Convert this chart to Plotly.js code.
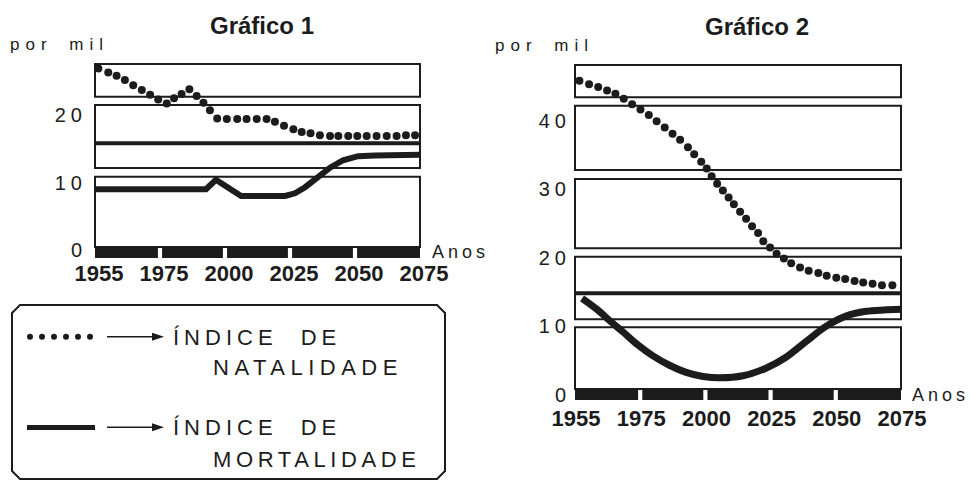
<!DOCTYPE html>
<html><head><meta charset="utf-8">
<script src="https://cdn.plot.ly/plotly-3.0.1.min.js"></script>
<style>body{margin:0;background:#fff}</style>
</head><body>
<div id="chart" style="width:970px;height:480px"></div>
<script>
// ---------- DATA ----------
const tickPositions = [1950, 1975, 2000, 2025, 2050, 2075];
const tickLabels = ['1955', '1975', '2000', '2025', '2050', '2075'];
const yTicks1 = [0, 10, 20];
const yTicks2 = [0, 10, 20, 30, 40];

// Gráfico 1 – natalidade (dots)
const nat1Years = [1951.3, 1955.1, 1958.3, 1961.5, 1964.7, 1968.0, 1971.2, 1974.3, 1977.6, 1980.4, 1983.3, 1986.3, 1989.1, 1991.7, 1994.2, 1997.0, 2000.7, 2004.7, 2008.3, 2012.2, 2016.0, 2019.2, 2022.7, 2026.3, 2029.5, 2032.9, 2036.5, 2040.4, 2043.6, 2047.4, 2050.9, 2054.5, 2058.3, 2062.2, 2066.0, 2069.6, 2073.1];
const nat1Values = [26.9, 26.3, 25.8, 25.2, 24.4, 23.7, 23.0, 22.3, 21.7, 22.5, 23.1, 23.8, 22.8, 21.8, 20.7, 19.5, 19.4, 19.4, 19.4, 19.4, 19.4, 19.0, 18.4, 17.9, 17.5, 17.3, 17.0, 16.9, 16.9, 16.9, 16.9, 16.9, 16.9, 16.9, 16.9, 17.0, 17.0];
// Gráfico 1 – mortalidade (line)
const mort1Years = [1950, 1992.7, 1996.5, 2006.2, 2023.1, 2026.9, 2030.8, 2035.4, 2040.4, 2045.4, 2051.2, 2057.7, 2075];
const mort1Values = [9.0, 9.0, 10.4, 8.0, 8.0, 8.4, 9.3, 10.7, 12.2, 13.3, 13.9, 14.0, 14.1];

// Gráfico 2 – natalidade (dots)
const nat2Years = [1951.7, 1955.4, 1958.9, 1962.3, 1965.5, 1968.7, 1971.9, 1975.1, 1978.3, 1981.3, 1984.4, 1987.4, 1990.3, 1993.3, 1995.7, 1998.4, 2000.5, 2002.4, 2004.5, 2006.7, 2008.9, 2010.9, 2013.3, 2015.6, 2017.9, 2020.2, 2022.2, 2024.8, 2027.3, 2030.1, 2032.9, 2036.3, 2039.6, 2043.3, 2046.5, 2050.2, 2053.6, 2057.2, 2060.5, 2064.1, 2067.7, 2071.7];
const nat2Values = [45.8, 45.3, 44.9, 44.4, 43.9, 43.2, 42.4, 41.6, 40.8, 39.9, 39.0, 38.1, 37.2, 36.1, 35.1, 34.0, 33.0, 31.9, 30.8, 29.8, 28.8, 27.8, 26.7, 25.7, 24.6, 23.6, 22.4, 21.5, 20.6, 19.9, 19.2, 18.6, 18.1, 17.8, 17.4, 17.1, 16.9, 16.6, 16.4, 16.2, 16.0, 16.0];
// Gráfico 2 – mortalidade (line)
const mort2Years = [1952.7, 1958.4, 1963.4, 1968.4, 1973.8, 1979.9, 1986.4, 1992.6, 1999.1, 2005.6, 2014.4, 2023.2, 2030.9, 2038.6, 2046.2, 2053.9, 2061.6, 2068.5, 2075];
const mort2Values = [14.1, 12.5, 10.8, 9.2, 7.4, 5.7, 4.3, 3.3, 2.7, 2.5, 2.8, 3.9, 5.5, 7.8, 10.0, 11.5, 12.2, 12.4, 12.5];

// ---------- LAYOUT HELPERS ----------
const W = 970, H = 480;
const X = px => px / W;
const Y = py => 1 - py / H;
const INK = '#1c1c1c';
const FONT = 'Liberation Sans, Arial, Helvetica, sans-serif';

const data = [
  {x: nat1Years, y: nat1Values, xaxis: 'x', yaxis: 'y', mode: 'markers', type: 'scatter',
   marker: {color: INK, size: 8}, showlegend: false, hoverinfo: 'skip'},
  {x: mort1Years, y: mort1Values, xaxis: 'x', yaxis: 'y', mode: 'lines', type: 'scatter',
   line: {color: INK, width: 6}, showlegend: false, hoverinfo: 'skip'},
  {x: nat2Years, y: nat2Values, xaxis: 'x2', yaxis: 'y2', mode: 'markers', type: 'scatter',
   marker: {color: INK, size: 8}, showlegend: false, hoverinfo: 'skip'},
  {x: mort2Years, y: mort2Values, xaxis: 'x2', yaxis: 'y2', mode: 'lines', type: 'scatter',
   line: {color: INK, width: 7, shape: 'spline', smoothing: 0.9}, showlegend: false, hoverinfo: 'skip'}
];

function xAxis(domainPx, shift, standoff) {
  return {
    domain: [X(domainPx[0]), X(domainPx[1])], range: [1950, 2075],
    tickvals: tickPositions, ticktext: tickLabels, ticks: '',
    showgrid: false, zeroline: false, showline: false, fixedrange: true,
    tickfont: {family: FONT, size: 22, weight: 'bold', color: INK},
    ticklabelshift: shift, ticklabelstandoff: standoff
  };
}
function yAxis(domainPx, zeroPx, pxPerUnit, ticks, standoff) {
  return {
    domain: [Y(domainPx[1]), Y(domainPx[0])],
    range: [(zeroPx - domainPx[1]) / pxPerUnit, (zeroPx - domainPx[0]) / pxPerUnit],
    tickvals: ticks, ticks: '', showgrid: false, zeroline: false, showline: false, fixedrange: true,
    tickfont: {family: FONT, size: 20, color: INK}, ticklabelstandoff: standoff
  };
}

const shapes = [];
function box(x0, x1, y0, y1) {
  shapes.push({type: 'rect', xref: 'paper', yref: 'paper', x0: X(x0), x1: X(x1), y0: Y(y1), y1: Y(y0),
               line: {color: INK, width: 2}, fillcolor: 'rgba(0,0,0,0)', layer: 'below'});
}
function hline(x0, x1, y, w) {
  shapes.push({type: 'line', xref: 'paper', yref: 'paper', x0: X(x0), x1: X(x1), y0: Y(y), y1: Y(y),
               line: {color: INK, width: w}, layer: 'below'});
}
function bar(xref, yTop, yBot) {
  for (let i = 0; i < tickPositions.length - 1; i++) {
    const a = tickPositions[i] + (i === 0 ? 0 : 0.8);
    const b = tickPositions[i + 1] - (i === tickPositions.length - 2 ? 0 : 0.8);
    shapes.push({type: 'rect', xref: xref, yref: 'paper', x0: a, x1: b, y0: Y(yBot), y1: Y(yTop),
                 line: {width: 0}, fillcolor: INK, layer: 'above'});
  }
}

// Gráfico 1 frame
[[64, 96.7], [105, 168], [176.7, 247]].forEach(b => box(95, 420, b[0], b[1]));
hline(95, 420, 143.3, 4);
bar('x', 247, 258);
// Gráfico 2 frame
[[65, 97.3], [105.7, 170], [179, 248.3], [256.7, 319.3], [327.3, 389]].forEach(b => box(575, 901, b[0], b[1]));
hline(575, 901, 293.3, 4);
bar('x2', 389, 400);

// Legend box (chamfered corners)
const c = 8, lx0 = 12, lx1 = 445, ly0 = 305, ly1 = 479;
shapes.push({type: 'path', xref: 'paper', yref: 'paper', line: {color: INK, width: 2}, fillcolor: 'rgba(0,0,0,0)',
  path: `M ${X(lx0 + c)},${Y(ly0)} L ${X(lx1 - c)},${Y(ly0)} L ${X(lx1)},${Y(ly0 + c)} L ${X(lx1)},${Y(ly1 - c)} L ${X(lx1 - c)},${Y(ly1)} L ${X(lx0 + c)},${Y(ly1)} L ${X(lx0)},${Y(ly1 - c)} L ${X(lx0)},${Y(ly0 + c)} Z`});
// legend dots
[30, 42, 54, 66, 78, 90].forEach(cx => {
  shapes.push({type: 'circle', xref: 'paper', yref: 'paper', x0: X(cx - 3), x1: X(cx + 3), y0: Y(336.7 + 3), y1: Y(336.7 - 3),
               line: {width: 0}, fillcolor: INK});
});
// legend solid line
hline(27, 95, 427.5, 5);
// arrows
function arrow(y) {
  hline(107, 155, y, 1.5);
  shapes.push({type: 'path', xref: 'paper', yref: 'paper', line: {width: 0}, fillcolor: INK,
    path: `M ${X(152)},${Y(y - 4)} L ${X(164)},${Y(y)} L ${X(152)},${Y(y + 4)} Z`});
}
arrow(336.7);
arrow(427.3);

function ann(text, x, y, size, opts) {
  return Object.assign({text: text, xref: 'paper', yref: 'paper', x: X(x), y: Y(y), showarrow: false,
    xanchor: 'left', yanchor: 'middle', align: 'left', borderpad: 0, borderwidth: 0,
    font: {family: FONT, size: size, color: INK}}, opts || {});
}

const annotations = [
  ann('Gráfico 1', 262, 25, 24, {xanchor: 'center', align: 'center', font: {family: FONT, size: 24, weight: 'bold', color: INK}}),
  ann('Gráfico 2', 757, 26, 24, {xanchor: 'center', align: 'center', font: {family: FONT, size: 24, weight: 'bold', color: INK}}),
  ann('por mil', 10, 44, 17),
  ann('por mil', 495, 45, 17),
  ann('Anos', 432, 251.5, 18),
  ann('Anos', 912, 395, 18),
  ann('ÍNDICE DE', 173, 337.5, 22),
  ann('NATALIDADE', 213, 367.5, 22),
  ann('ÍNDICE DE', 173, 427.5, 22),
  ann('MORTALIDADE', 213, 459.5, 22)
];

const layout = {
  width: W, height: H, margin: {l: 0, r: 0, t: 0, b: 0},
  paper_bgcolor: '#fff', plot_bgcolor: 'rgba(0,0,0,0)',
  showlegend: false,
  xaxis: Object.assign(xAxis([95, 420], 4, 0), {anchor: 'y'}),
  yaxis: Object.assign(yAxis([64, 258], 250, 6.75, yTicks1, 7), {anchor: 'x'}),
  xaxis2: Object.assign(xAxis([575, 901], 1, 3), {anchor: 'y2'}),
  yaxis2: Object.assign(yAxis([65, 400], 395, 6.86, yTicks2, 3), {anchor: 'x2'}),
  shapes: shapes,
  annotations: annotations
};

const tracking = {'por mil': [6, 6], 'Anos': [4, 0], 'ÍNDICE DE': [5, 12], 'NATALIDADE': [5.5, 0], 'MORTALIDADE': [4.6, 0]};
Plotly.newPlot('chart', data, layout, {staticPlot: true}).then(gd => {
  gd.querySelectorAll('.ytick text, .y2tick text').forEach(t => { t.style.letterSpacing = '5px'; });
  gd.querySelectorAll('.annotation-text').forEach(t => {
    const s = tracking[t.textContent];
    if (s) { t.style.letterSpacing = s[0] + 'px'; t.style.wordSpacing = s[1] + 'px'; }
  });
});
</script>
</body></html>
